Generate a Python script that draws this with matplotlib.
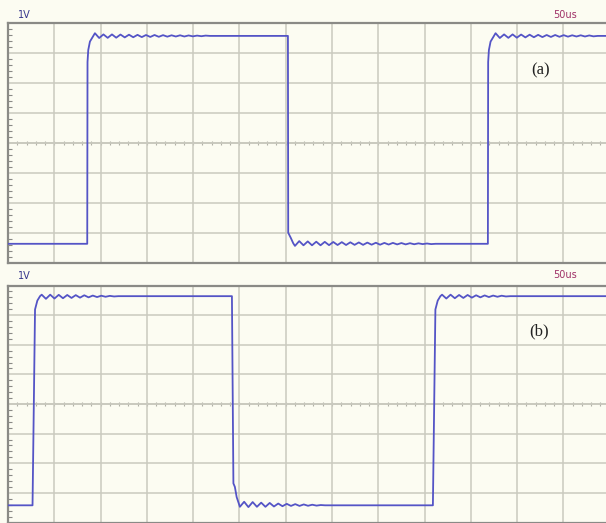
import matplotlib
matplotlib.use("Agg")
import matplotlib.pyplot as plt
from matplotlib.ticker import MultipleLocator

# ---------------- data (time in us, voltage in V) ----------------
time_per_div = 50          # us / div
volt_per_div = 1           # V / div
visible_divs = 12.92       # horizontal divisions visible in the window
ring_half_period = 4.6     # us between successive ringing extrema

# panel (a)
a_edge_times = [85.6, 302.4, 518.4]
a_edge_kinds = ["rise", "fall", "rise"]
a_high = 3.57
a_low = -3.36
a_rise_dt = [0.3, 1.1, 2.9, 8.3]
a_rise_dv = [-0.87, -0.47, -0.19, 0.09]
a_fall_dt = [0.3, 3.2, 5.7, 7.6]
a_fall_dv = [0.37, 0.19, 0.02, -0.07]
a_ring_high1 = [-0.07, 0.05, -0.065, 0.05, -0.06, 0.045, -0.05, 0.04, -0.045, 0.035,
                -0.04, 0.03, -0.035, 0.03, -0.03, 0.025, -0.025, 0.02, -0.02, 0.02,
                -0.02, 0.015, -0.015, 0.01, -0.01, 0.01]
a_ring_low1 = [0.09, -0.05, 0.08, -0.05, 0.07, -0.05, 0.065, -0.045, 0.06, -0.04,
               0.055, -0.04, 0.05, -0.035, 0.045, -0.035, 0.04, -0.03, 0.035, -0.03,
               0.03, -0.025, 0.03, -0.02, 0.025, -0.02, 0.02, -0.015, 0.015, -0.01,
               0.01, -0.01]
a_ring_high2 = [-0.07, 0.05, -0.065, 0.05, -0.06, 0.045, -0.05, 0.04, -0.045, 0.035,
                -0.04, 0.03, -0.035, 0.03, -0.03, 0.025, -0.025, 0.02, -0.02, 0.02,
                -0.02, 0.015, -0.015]

# panel (b)
b_edge_times = [26.5, 241.9, 459.0]
b_edge_kinds = ["rise", "fall", "rise"]
b_high = 3.64
b_low = -3.42
b_rise_dt = [2.7, 5.2, 8.1, 9.9]
b_rise_dv = [-0.45, -0.15, 0.0, 0.05]
b_fall_dt = [1.6, 3.2, 5.1, 8.6]
b_fall_dv = [0.74, 0.62, 0.28, -0.05]
b_ring_high1 = [-0.09, 0.05, -0.08, 0.045, -0.07, 0.04, -0.06, 0.035, -0.05, 0.03,
                -0.04, 0.02, -0.03, 0.015, -0.02, 0.01, -0.01]
b_ring_low1 = [0.12, -0.06, 0.11, -0.05, 0.09, -0.05, 0.08, -0.04, 0.06, -0.03,
               0.05, -0.02, 0.04, -0.02, 0.03, -0.015, 0.02, -0.01, 0.01]
b_ring_high2 = [-0.08, 0.05, -0.07, 0.04, -0.06, 0.04, -0.05, 0.03, -0.04, 0.025,
                -0.03, 0.02, -0.02, 0.015, -0.01]

# ---------------- styling ----------------
BG = "#fcfcf2"
GRID = "#cacabf"
FRAME = "#8a8a86"
TRACE = "#5454c6"
W, H = 606, 523

t_end = visible_divs * time_per_div


def build_trace(edges, kinds, high, low, rise_dt, rise_dv, fall_dt, fall_dv, rings):
    level = low if kinds[0] == "rise" else high
    ts, vs = [0.0], [level]
    for te, kind, ring in zip(edges, kinds, rings):
        ts.append(te)
        vs.append(level)
        target = high if kind == "rise" else low
        dts, dvs = (rise_dt, rise_dv) if kind == "rise" else (fall_dt, fall_dv)
        for dt, dv in zip(dts, dvs):
            ts.append(te + dt)
            vs.append(target + dv)
        tp = te + dts[-1]
        for k, dv in enumerate(ring, 1):
            ts.append(tp + k * ring_half_period)
            vs.append(target + dv)
        ts.append(tp + (len(ring) + 1) * ring_half_period)
        vs.append(target)
        level = target
    ts.append(t_end + 10)
    vs.append(level)
    return ts, vs


fig = plt.figure(figsize=(W / 100, H / 100), dpi=100, facecolor=BG)


def px_axes(left, top, right, bottom):
    return fig.add_axes([left / W, 1 - bottom / H, (right - left) / W, (bottom - top) / H])


def style_axes(ax):
    ax.set_facecolor(BG)
    ax.set_xlim(0, t_end)
    ax.set_ylim(-4 * volt_per_div, 4 * volt_per_div)
    ax.xaxis.set_major_locator(MultipleLocator(time_per_div))
    ax.yaxis.set_major_locator(MultipleLocator(volt_per_div))
    ax.yaxis.set_minor_locator(MultipleLocator(volt_per_div / 5))
    ax.grid(True, which="major", color=GRID, linewidth=1.1, zorder=0)
    ax.tick_params(which="both", labelbottom=False, labelleft=False,
                   bottom=False, top=False, right=False)
    ax.tick_params(which="major", left=False)
    ax.tick_params(which="minor", left=True, direction="in", length=3,
                   width=0.8, color=FRAME)
    for s in ["left", "top", "bottom"]:
        ax.spines[s].set_color(FRAME)
        ax.spines[s].set_linewidth(1.6)
    ax.spines["right"].set_visible(False)
    # minor tick marks along the centre horizontal line
    minor_x = [i * time_per_div / 5 for i in range(int(visible_divs * 5) + 1)]
    ax.plot(minor_x, [0] * len(minor_x), linestyle="none", marker="|",
            markersize=3.5, markeredgewidth=0.8, color="#b0b0a6", zorder=1)
    ax.axhline(0, color="#bcbcb1", linewidth=1.1, zorder=1)


ax_a = px_axes(8, 23, 606, 263)
ax_b = px_axes(8, 285.5, 606, 522.5)
for ax in (ax_a, ax_b):
    style_axes(ax)

ta, va = build_trace(a_edge_times, a_edge_kinds, a_high, a_low, a_rise_dt, a_rise_dv,
                     a_fall_dt, a_fall_dv, [a_ring_high1, a_ring_low1, a_ring_high2])
tb, vb = build_trace(b_edge_times, b_edge_kinds, b_high, b_low, b_rise_dt, b_rise_dv,
                     b_fall_dt, b_fall_dv, [b_ring_high1, b_ring_low1, b_ring_high2])
ax_a.plot(ta, va, color=TRACE, linewidth=1.3, zorder=3)
ax_b.plot(tb, vb, color=TRACE, linewidth=1.3, zorder=3)


def ftext(x, y, s, **kw):
    fig.text(x / W, 1 - y / H, s, ha="center", va="center", **kw)


ftext(24, 15, "1V", fontsize=7, color="#36368c", family="DejaVu Sans")
ftext(24, 276, "1V", fontsize=7, color="#36368c", family="DejaVu Sans")
ftext(565.5, 15.5, "50us", fontsize=7, color="#a03268", family="DejaVu Sans")
ftext(565.5, 275.5, "50us", fontsize=7, color="#a03268", family="DejaVu Sans")
ftext(540.5, 70, "(a)", fontsize=12, color="#222222", family="Liberation Serif")
ftext(539.5, 331, "(b)", fontsize=12, color="#222222", family="Liberation Serif")

fig.savefig("out.png", dpi=100, facecolor=BG)
